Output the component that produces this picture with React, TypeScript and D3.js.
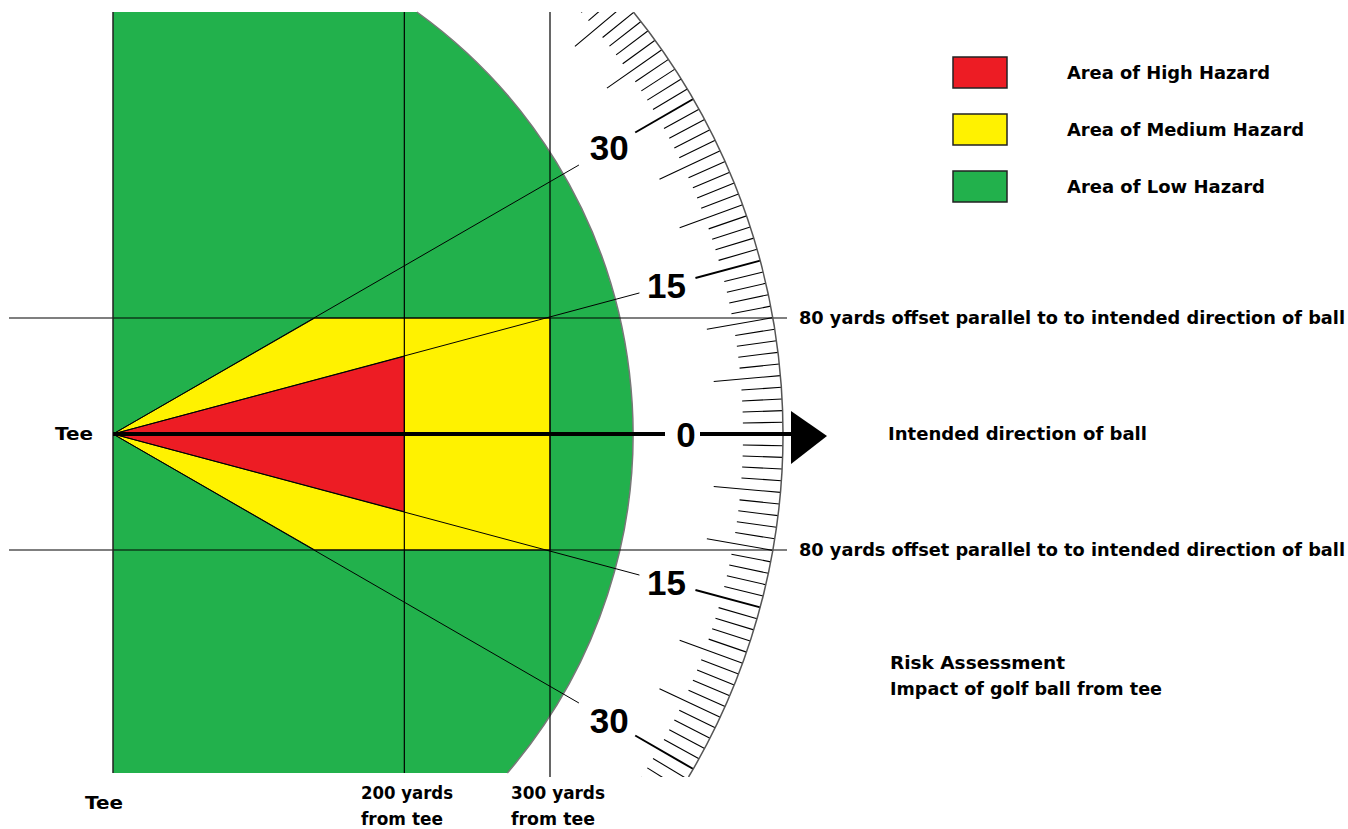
import React from "react";
import * as d3 from "d3";

// ---- data (yards / degrees) ----
const distanceMarks = [200, 300];
const distanceLabels = [["200 yards", "from tee"], ["300 yards", "from tee"]];
const offsetYards = [80, -80];
const offsetLabel = "80 yards offset parallel to to intended direction of ball";
const angleRays = [30, 15, -15, -30];
const angleLabelValues = [30, 15, 0, -15, -30];
const angleLabelText = ["30", "15", "0", "15", "30"];
const highHazard = { distance: 200, angle: 15 };
const mediumHazard = { distance: 300, angle: 30, offset: 80 };
const lowHazardRadiusYards = 357;
const protractorDegrees = d3.range(-50, 51, 1);
const legendLabels = ["Area of High Hazard", "Area of Medium Hazard", "Area of Low Hazard"];
const legendColors = ["#ED1C24", "#FFF200", "#22B14C"];
const legendTextWidths = [203, 237, 198];

const W = 1348;
const H = 829;
const TEE_X = 113;
const TEE_Y = 434;
const TOP = 12;
const BOTTOM = 773;
const FONT = "'DejaVu Sans', Verdana, sans-serif";

const x = d3.scaleLinear().domain([0, 300]).range([TEE_X, 550]);
const y = d3.scaleLinear().domain([80, -80]).range([318, 550]);
const pxPerYard = (x(300) - x(0)) / 300;
const rad = (deg: number) => (deg * Math.PI) / 180;
const polar = (r: number, deg: number): [number, number] => [
  TEE_X + r * Math.cos(rad(deg)),
  TEE_Y - r * Math.sin(rad(deg)),
];

function T(props: { x: number; y: number; w: number; size?: number; children: string }) {
  return (
    <text
      x={props.x}
      y={props.y}
      textLength={props.w}
      lengthAdjust="spacingAndGlyphs"
      style={{ fontFamily: FONT, fontWeight: 700, fontSize: props.size ?? 17.5, fill: "#000" }}
    >
      {props.children}
    </text>
  );
}

export default function App() {
  const greenR = lowHazardRadiusYards * pxPerYard;
  const dyTop = TEE_Y - TOP;
  const dyBot = BOTTOM - TEE_Y;
  const xTop = TEE_X + Math.sqrt(greenR * greenR - dyTop * dyTop);
  const xBot = TEE_X + Math.sqrt(greenR * greenR - dyBot * dyBot);
  const greenPath = `M${TEE_X},${TOP}L${xTop},${TOP}A${greenR},${greenR} 0 0 1 ${xBot},${BOTTOM}L${TEE_X},${BOTTOM}Z`;
  const greenArc = `M${xTop},${TOP}A${greenR},${greenR} 0 0 1 ${xBot},${BOTTOM}`;

  const t30 = Math.tan(rad(mediumHazard.angle));
  const cornerX = mediumHazard.offset / t30;
  const yellowPts: [number, number][] = [
    [x(0), y(0)],
    [x(cornerX), y(mediumHazard.offset)],
    [x(mediumHazard.distance), y(mediumHazard.offset)],
    [x(mediumHazard.distance), y(-mediumHazard.offset)],
    [x(cornerX), y(-mediumHazard.offset)],
  ];
  const t15 = Math.tan(rad(highHazard.angle));
  const redPts: [number, number][] = [
    [x(0), y(0)],
    [x(highHazard.distance), y(highHazard.distance * t15)],
    [x(highHazard.distance), y(-highHazard.distance * t15)],
  ];
  const line = d3.line();

  const rOuter = 670;
  const rMinor = 630;
  const rMajor = 603;
  const outerTopX = TEE_X + Math.sqrt(rOuter * rOuter - dyTop * dyTop);
  const outerBotX = TEE_X + Math.sqrt(rOuter * rOuter - (BOTTOM + 4 - TEE_Y) ** 2);
  const outerArc = `M${outerTopX},${TOP}A${rOuter},${rOuter} 0 0 1 ${outerBotX},${BOTTOM + 4}`;

  const distW = [[92, 82], [94, 84]];
  const distX = [361, 511];

  return (
    <svg width={W} height={H} style={{ position: "absolute", left: 0, top: 0, background: "#fff" }}>
      <defs>
        <clipPath id="protClip">
          <rect x={0} y={TOP} width={W} height={BOTTOM + 4 - TOP} />
        </clipPath>
      </defs>

      <path d={greenPath} fill={legendColors[2]} />
      <path d={greenArc} fill="none" stroke="#777" strokeWidth={1.5} />

      <path d={line(yellowPts) + "Z"} fill={legendColors[1]} stroke="#111" strokeWidth={1} />
      <path d={line(redPts) + "Z"} fill={legendColors[0]} stroke="#111" strokeWidth={1} />

      {offsetYards.map((o) => (
        <line key={o} x1={9} x2={787} y1={y(o)} y2={y(o)} stroke="#000" strokeWidth={1.2} />
      ))}

      <line x1={TEE_X} x2={TEE_X} y1={TOP} y2={BOTTOM} stroke="#222" strokeWidth={1.5} />
      {distanceMarks.map((d, i) => (
        <line key={d} x1={x(d)} x2={x(d)} y1={TOP} y2={BOTTOM + (i === 1 ? 4 : 0)} stroke="#000" strokeWidth={1.2} />
      ))}

      {angleRays.map((a) => {
        const r = Math.abs(a) === 15 ? 545 : 538;
        const [x2, y2] = polar(r, a);
        return <line key={a} x1={TEE_X} y1={TEE_Y} x2={x2} y2={y2} stroke="#000" strokeWidth={1} />;
      })}

      <g clipPath="url(#protClip)">
        {protractorDegrees.map((a) => {
          const r0 = a % 5 === 0 ? rMajor : rMinor;
          const [x1, y1] = polar(r0, a);
          const [x2, y2] = polar(rOuter, a);
          return (
            <line key={a} x1={x1} y1={y1} x2={x2} y2={y2} stroke="#000"
              strokeWidth={a % 15 === 0 ? 2 : 1.1} />
          );
        })}
        <path d={outerArc} fill="none" stroke="#555" strokeWidth={1.5} />
      </g>

      <line x1={TEE_X} x2={665} y1={TEE_Y} y2={TEE_Y} stroke="#000" strokeWidth={4} />
      <line x1={700} x2={795} y1={TEE_Y} y2={TEE_Y} stroke="#000" strokeWidth={4} />
      <polygon points={`791,411 827,436 791,464`} fill="#000" />

      {angleLabelValues.map((a, i) => {
        const [lx, ly] = polar(573, a);
        return (
          <text key={i} x={lx} y={ly + 12.5} textAnchor="middle"
            style={{ fontFamily: "'Liberation Sans', Arial, sans-serif", fontWeight: 700, fontSize: 35 }}>
            {angleLabelText[i]}
          </text>
        );
      })}

      {offsetYards.map((o) => (
        <T key={o} x={799} y={y(o) + 6} w={546}>{offsetLabel}</T>
      ))}
      <T x={888} y={440} w={259}>Intended direction of ball</T>
      <T x={55} y={440} w={38}>Tee</T>
      <T x={85} y={809} w={38}>Tee</T>
      {distanceMarks.map((d, i) => (
        <g key={d}>
          <T x={distX[i]} y={799} w={distW[i][0]}>{distanceLabels[i][0]}</T>
          <T x={distX[i]} y={825} w={distW[i][1]}>{distanceLabels[i][1]}</T>
        </g>
      ))}
      <T x={890} y={669} w={175}>Risk Assessment</T>
      <T x={890} y={695} w={272}>Impact of golf ball from tee</T>

      {legendLabels.map((l, i) => (
        <g key={l}>
          <rect x={953} y={57 + i * 57} width={54} height={31} fill={legendColors[i]} stroke="#222" strokeWidth={1.5} />
          <T x={1067} y={79 + i * 57} w={legendTextWidths[i]}>{l}</T>
        </g>
      ))}
    </svg>
  );
}
